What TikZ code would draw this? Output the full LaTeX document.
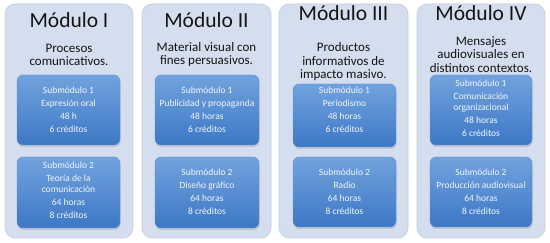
\documentclass[tikz,border=0pt]{standalone}
\usepackage{fontspec}
\setmainfont{Carlito}
\usetikzlibrary{shadows}
\definecolor{panelfill}{HTML}{D5DEEF}
\definecolor{paneldraw}{HTML}{C3CDDF}
\definecolor{subtop}{HTML}{72A2DE}
\definecolor{subbot}{HTML}{3D78C5}
\definecolor{subdraw}{HTML}{5F8FD0}
\definecolor{subtext}{HTML}{F2F6FC}
\definecolor{darktext}{HTML}{141414}
\tikzset{
  panel/.style={draw=paneldraw, line width=0.6pt, fill=panelfill,
    rounded corners=10pt, inner sep=0pt},
  subbox/.style={draw=subdraw, line width=0.4pt, top color=subtop,
    bottom color=subbot, rounded corners=6pt, inner sep=0pt,
    drop shadow={opacity=0.28, shadow xshift=0.6pt, shadow yshift=-2pt}},
  titletext/.style={anchor=base, text=darktext, inner sep=0pt,
    font=\fontsize{21.5}{24}\selectfont},
  desctext/.style={align=center, text=darktext, inner sep=0pt,
    font=\fontsize{13}{13.5}\selectfont},
  subtxt/.style={align=center, text=subtext, inner sep=0pt,
    font=\fontsize{9.5}{11}\selectfont},
}
\begin{document}
\begin{tikzpicture}[x=1pt,y=-1pt]
\useasboundingbox (0,0) rectangle (550,243);

% module panels
\node[panel, minimum width=128pt, minimum height=234pt] (p1) at (69,121) {};
\node[panel, minimum width=129pt, minimum height=234pt] (p2) at (206.5,121) {};
\node[panel, minimum width=129pt, minimum height=234pt] (p3) at (343.5,121) {};
\node[panel, minimum width=128pt, minimum height=234pt] (p4) at (481,121) {};

% titles
\node[titletext] (t1) at (69,28) {Módulo I};
\node[titletext] (t2) at (206.5,28) {Módulo II};
\node[titletext] (t3) at (343.5,21) {Módulo III};
\node[titletext] (t4) at (481,21) {Módulo IV};

% descriptions
\node[desctext] (d1) at (69,55) {Procesos\\comunicativos.};
\node[desctext] (d2) at (206.5,54.5) {Material visual con\\fines persuasivos.};
\node[desctext] (d3) at (343.5,62) {Productos\\informativos de\\impacto masivo.};
\node[desctext] (d4) at (481,54.5) {Mensajes\\audiovisuales en\\distintos contextos.};

% submodule boxes
\node[subbox, minimum width=103pt, minimum height=70pt] (s11) at (68.5,110) {};
\node[subbox, minimum width=103pt, minimum height=71pt] (s12) at (68.5,192.5) {};
\node[subbox, minimum width=104pt, minimum height=70pt] (s21) at (207,110) {};
\node[subbox, minimum width=104pt, minimum height=71pt] (s22) at (207,192.5) {};
\node[subbox, minimum width=103pt, minimum height=63pt] (s31) at (344.5,115.5) {};
\node[subbox, minimum width=103pt, minimum height=70pt] (s32) at (344.5,192) {};
\node[subbox, minimum width=102pt, minimum height=70pt] (s41) at (481,110) {};
\node[subbox, minimum width=102pt, minimum height=70pt] (s42) at (481,192) {};

% submodule texts
\node[subtxt] (x11) at (68.5,109.5) {Submódulo 1\\[2pt]Expresión oral\\[2pt]48 h\\[2pt]6 créditos};
\node[subtxt] (x12) at (68.5,190.5) {Submódulo 2\\[2pt]Teoría de la\\comunicación\\[2pt]64 horas\\[2pt]8 créditos};
\node[subtxt] (x21) at (207,110) {Submódulo 1\\[2pt]Publicidad y propaganda\\[2pt]48 horas\\[2pt]6 créditos};
\node[subtxt] (x22) at (207,192) {Submódulo 2\\[2pt]Diseño gráfico\\[2pt]64 horas\\[2pt]8 créditos};
\node[subtxt] (x31) at (344.5,110) {Submódulo 1\\[2pt]Periodismo\\[2pt]48 horas\\[2pt]6 créditos};
\node[subtxt] (x32) at (344.5,192) {Submódulo 2\\[2pt]Radio\\[2pt]64 horas\\[2pt]8 créditos};
\node[subtxt] (x41) at (481,108.5) {Submódulo 1\\[2pt]Comunicación\\organizacional\\[2pt]48 horas\\[2pt]6 créditos};
\node[subtxt] (x42) at (481,192) {Submódulo 2\\[2pt]Producción audiovisual\\[2pt]64 horas\\[2pt]8 créditos};
\end{tikzpicture}
\end{document}
